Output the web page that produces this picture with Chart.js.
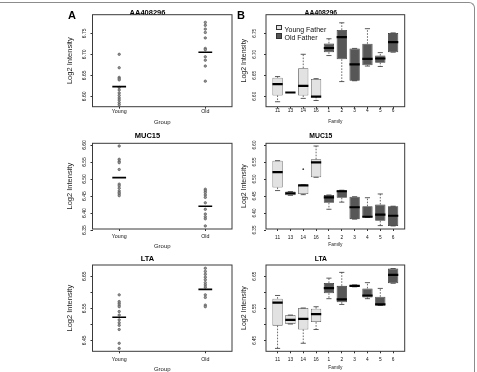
<!DOCTYPE html>
<html>
<head>
<meta charset="utf-8">
<script src="https://cdn.jsdelivr.net/npm/chart.js@4.4.1/dist/chart.umd.min.js"></script>
<style>
  html, body { margin: 0; padding: 0; background: #fff; }
  #fig { position: relative; width: 477px; height: 372px; overflow: hidden; font-family: "Liberation Sans", Arial, sans-serif; }
  #fig canvas { position: absolute; }
  .frame { position: absolute; left: -10px; top: 2px; width: 484px; height: 420px; border-top: 1px solid #8c8c8c; border-right: 1px solid #8c8c8c; border-top-right-radius: 6px; }
  .letter { position: absolute; font-weight: bold; font-size: 11px; line-height: 11px; color: #000; z-index: 5; }
  .leg { position: absolute; font-size: 7px; line-height: 8px; height: 8px; color: #111; white-space: nowrap; z-index: 5; }
  .leg span { display: inline-block; width: 3.5px; height: 3.5px; border: 0.6px solid #333; margin-right: 3px; vertical-align: 1px; }
</style>
</head>
<body>
<div id="fig">
  <div class="frame"></div>
  <canvas id="aaA"></canvas>
  <canvas id="mucA"></canvas>
  <canvas id="ltaA"></canvas>
  <canvas id="aaB"></canvas>
  <canvas id="mucB"></canvas>
  <canvas id="ltaB"></canvas>
  <div class="letter" style="left:68px;top:10px">A</div>
  <div class="letter" style="left:237px;top:10px">B</div>
  <div class="leg" style="left:276px;top:24.7px"><span style="background:#e2e2e2"></span>Young Father</div>
  <div class="leg" style="left:276px;top:33.3px"><span style="background:#555555"></span>Old Father</div>
</div>
<script>
const groups = ['Young', 'Old'];
const families = ['11', '13', '14', '16', '1', '2', '3', '4', '5', '6'];
const youngCount = 4;

// AA408296
const aaYoung = [6.700, 6.668, 6.645, 6.642, 6.639, 6.621, 6.615, 6.608, 6.602, 6.596, 6.591, 6.585, 6.580];
const aaOld = [6.776, 6.769, 6.760, 6.752, 6.739, 6.714, 6.711, 6.694, 6.686, 6.672, 6.636];
const aaCentre = [6.623, 6.705];
const aaLow = [6.587, 6.609, 6.595, 6.590, 6.697, 6.635, 6.637, 6.672, 6.671, 6.705];
const aaQ1 = [6.602, 6.609, 6.602, 6.599, 6.705, 6.688, 6.637, 6.674, 6.680, 6.705];
const aaMed = [6.629, 6.609, 6.625, 6.599, 6.715, 6.741, 6.676, 6.689, 6.690, 6.729];
const aaQ3 = [6.644, 6.609, 6.667, 6.641, 6.726, 6.758, 6.714, 6.725, 6.697, 6.751];
const aaHigh = [6.647, 6.609, 6.700, 6.642, 6.737, 6.775, 6.714, 6.761, 6.704, 6.751];
const aaTicks = [6.60, 6.65, 6.70, 6.75];

// MUC15
const mucYoung = [6.597, 6.558, 6.552, 6.548, 6.528, 6.485, 6.480, 6.473, 6.465, 6.460, 6.456, 6.451];
const mucOld = [6.470, 6.465, 6.460, 6.453, 6.446, 6.430, 6.411, 6.397, 6.389, 6.383, 6.362];
const mucCentre = [6.504, 6.420];
const mucLow = [6.466, 6.452, 6.454, 6.505, 6.411, 6.432, 6.382, 6.387, 6.363, 6.362];
const mucQ1 = [6.475, 6.452, 6.456, 6.505, 6.430, 6.445, 6.382, 6.387, 6.377, 6.362];
const mucMed = [6.520, 6.458, 6.481, 6.549, 6.446, 6.464, 6.417, 6.389, 6.395, 6.392];
const mucQ3 = [6.554, 6.463, 6.483, 6.558, 6.453, 6.467, 6.448, 6.420, 6.425, 6.420];
const mucHigh = [6.554, 6.463, 6.483, 6.597, 6.453, 6.467, 6.448, 6.445, 6.456, 6.420];
const mucOutFam = [3];
const mucOutVal = [6.529];
const mucTicks = [6.35, 6.40, 6.45, 6.50, 6.55, 6.60];

// LTA
const ltaYoung = [6.592, 6.571, 6.566, 6.560, 6.555, 6.540, 6.529, 6.514, 6.505, 6.497, 6.484, 6.441, 6.425];
const ltaOld = [6.675, 6.665, 6.656, 6.647, 6.639, 6.630, 6.623, 6.616, 6.592, 6.584, 6.560, 6.555];
const ltaCentre = [6.522, 6.609];
const ltaLow = [6.425, 6.501, 6.441, 6.484, 6.580, 6.562, 6.617, 6.580, 6.559, 6.628];
const ltaQ1 = [6.496, 6.501, 6.484, 6.507, 6.597, 6.569, 6.617, 6.584, 6.559, 6.628];
const ltaMed = [6.568, 6.514, 6.517, 6.532, 6.613, 6.578, 6.620, 6.590, 6.562, 6.654];
const ltaQ3 = [6.580, 6.529, 6.551, 6.549, 6.629, 6.620, 6.623, 6.612, 6.586, 6.674];
const ltaHigh = [6.590, 6.529, 6.551, 6.555, 6.644, 6.662, 6.623, 6.630, 6.612, 6.674];
const ltaTicks = [6.45, 6.50, 6.55, 6.60, 6.65];
const ltaLabelled = [6.45, 6.55, 6.65];

Chart.defaults.font.family = '"Liberation Sans", Arial, sans-serif';
Chart.defaults.color = '#111';

const framePlugin = {
  id: 'frame',
  afterDatasetsDraw(chart) {
    const a = chart.chartArea;
    const ctx = chart.ctx;
    ctx.save();
    ctx.strokeStyle = '#3a3a3a';
    ctx.lineWidth = 1;
    ctx.strokeRect(a.left, a.top, a.right - a.left, a.bottom - a.top);
    ctx.restore();
  }
};

// work out canvas box and paddings so the plot area lands where it should
function geom(g) {
  const tLH = 2 * (g.T - g.titleY);
  const top = Math.floor(g.titleY - tLH / 2 - 6);
  const yLH = g.yTitleSize * 1.2;
  const left = Math.floor(g.yTitleX - yLH / 2 - 2);
  const xLH = g.xTitleSize * 1.2;
  const bottom = Math.ceil(g.xTitleY + xLH / 2 + 1);
  const width = Math.round(2 * ((g.L + g.R) / 2 - left));
  return {
    left, top, width, height: bottom - top,
    titleLH: tLH, titlePad: g.T - top - tLH,
    yw: g.L - left, yTitlePad: g.yTitleX - left - yLH / 2,
    rp: left + width - g.R,
    xh: bottom - g.B, xTitlePad: bottom - g.xTitleY - xLH / 2,
    xTickPad: g.xLabelY - g.B - 2 - g.xTickSize * 0.6,
    yTickPad: g.L - 2 - g.yLabelX - g.yTickSize * 0.973
  };
}

function seg(list) {
  const pts = [];
  list.forEach(s => {
    pts.push({ x: s[0], y: s[1] }, { x: s[2], y: s[3] }, { x: s[2], y: null });
  });
  return pts;
}

function makeChart(id, g, title, yMin, yMax, yTicks, labelled, xMin, xMax, xTicks, xLabels, xTitle, type, datasets) {
  const k = geom(g);
  const el = document.getElementById(id);
  el.width = k.width;
  el.height = k.height;
  el.style.left = k.left + 'px';
  el.style.top = k.top + 'px';
  return new Chart(el, {
    type: type,
    data: { datasets: datasets },
    plugins: [framePlugin],
    options: {
      responsive: false,
      animation: false,
      layout: { padding: { left: 0, top: 0, bottom: 0, right: k.rp }, autoPadding: false },
      plugins: {
        legend: { display: false },
        tooltip: { enabled: false },
        title: {
          display: true, text: title, color: '#000',
          font: { size: g.titleSize, weight: 'bold', lineHeight: k.titleLH / g.titleSize },
          padding: { top: k.titlePad, bottom: 0 }
        }
      },
      scales: {
        x: {
          type: 'linear', min: xMin, max: xMax, offset: false,
          afterBuildTicks: s => { s.ticks = xTicks.map(v => ({ value: v })); },
          afterFit: s => { s.height = k.xh; },
          grid: { offset: false, drawOnChartArea: false, drawTicks: true, tickLength: 2, color: '#333' },
          border: { display: false },
          ticks: {
            autoSkip: false, maxRotation: 0, padding: k.xTickPad, color: '#111',
            font: { size: g.xTickSize },
            callback: (v, i) => xLabels[i]
          },
          title: { display: true, text: xTitle, color: '#222', font: { size: g.xTitleSize }, padding: { top: 0, bottom: k.xTitlePad } }
        },
        y: {
          min: yMin, max: yMax,
          afterBuildTicks: s => { s.ticks = yTicks.map(v => ({ value: v })); },
          afterFit: s => { s.width = k.yw; },
          grid: { drawOnChartArea: false, drawTicks: true, tickLength: 2, color: '#333' },
          border: { display: false },
          ticks: {
            autoSkip: false, minRotation: 90, maxRotation: 90, crossAlign: 'center',
            padding: k.yTickPad, color: '#111', font: { size: g.yTickSize },
            callback: v => (labelled.some(l => Math.abs(l - v) < 1e-6) ? v.toFixed(2) : '')
          },
          title: { display: true, text: 'Log2 Intensity', color: '#222', font: { size: g.yTitleSize }, padding: { top: k.yTitlePad, bottom: 0 } }
        }
      }
    }
  });
}

function stripSets(young, old, centre) {
  const pt = { type: 'scatter', pointRadius: 1.2, pointBorderWidth: 0.7, pointBackgroundColor: '#9a9a9a', pointBorderColor: '#555', order: 1 };
  return [
    { type: 'line', data: seg(centre.map((c, i) => [i + 1 - 0.08, c, i + 1 + 0.08, c])), borderColor: '#000', borderWidth: 1.6, pointRadius: 0, order: 0 },
    Object.assign({ data: young.map(v => ({ x: 1, y: v })) }, pt),
    Object.assign({ data: old.map(v => ({ x: 2, y: v })) }, pt)
  ];
}

function boxSets(low, q1, med, q3, high, outFam, outVal) {
  const pos = families.map((f, i) => i + 1);
  const whisk = [];
  pos.forEach((x, i) => {
    if (high[i] > q3[i]) whisk.push([x, q3[i], x, high[i]]);
    if (low[i] < q1[i]) whisk.push([x, q1[i], x, low[i]]);
  });
  const caps = [];
  pos.forEach((x, i) => {
    caps.push([x - 0.2, high[i], x + 0.2, high[i]]);
    caps.push([x - 0.2, low[i], x + 0.2, low[i]]);
  });
  const bar = { type: 'bar', barThickness: 10.3, grouped: false, borderSkipped: false, borderWidth: 0.8, inflateAmount: 0, order: 4 };
  return [
    { type: 'line', data: seg(pos.map((x, i) => [x - 0.4, med[i], x + 0.4, med[i]])), borderColor: '#000', borderWidth: 2.2, pointRadius: 0, order: 0 },
    { type: 'line', data: seg(caps), borderColor: '#333', borderWidth: 0.8, pointRadius: 0, order: 1 },
    { type: 'line', data: seg(whisk), borderColor: '#444', borderWidth: 0.8, borderDash: [1.6, 1.4], pointRadius: 0, order: 2 },
    { type: 'scatter', data: outFam.map((f, i) => ({ x: f, y: outVal[i] })), pointRadius: 0.9, pointBackgroundColor: '#444', pointBorderWidth: 0, order: 3 },
    Object.assign({ label: 'Young Father', data: pos.slice(0, youngCount).map((x, i) => ({ x: x, y: [q1[i], q3[i]] })),
      backgroundColor: '#e2e2e2', borderColor: '#5a5a5a' }, bar),
    Object.assign({ label: 'Old Father', data: pos.slice(youngCount).map((x, j) => ({ x: x, y: [q1[j + youngCount], q3[j + youngCount]] })),
      backgroundColor: '#575757', borderColor: '#333' }, bar)
  ];
}

const fontA = { titleSize: 7.5, yTickSize: 5, xTickSize: 5.3, yTitleSize: 7.5, xTitleSize: 6 };
const fontB = { titleSize: 6.8, yTickSize: 4.6, xTickSize: 4.8, yTitleSize: 7, xTitleSize: 4.8 };
const colA = { L: 92.5, R: 232, yTitleX: 70, yLabelX: 85 };
const colB = { L: 266, R: 404.7, yTitleX: 243.7, yLabelX: 254.3 };
const rowTop = { T: 14.7, B: 106.7, titleY: 12.7 };
const rowMid = { T: 143.3, B: 229, titleY: 135.7 };
const rowBot = { T: 265, B: 351.3, titleY: 259.3 };
const famTicks = families.map((f, i) => i + 1);

makeChart('aaA', Object.assign({}, fontA, colA, rowTop, { xLabelY: 112, xTitleY: 122 }), 'AA408296',
  6.5752, 6.7943, aaTicks, aaTicks, 0.69, 2.31, [1, 2], groups, 'Group', 'scatter', stripSets(aaYoung, aaOld, aaCentre));
makeChart('mucA', Object.assign({}, fontA, colA, rowMid, { xLabelY: 236.7, xTitleY: 246 }), 'MUC15',
  6.353, 6.605, mucTicks, mucTicks, 0.69, 2.31, [1, 2], groups, 'Group', 'scatter', stripSets(mucYoung, mucOld, mucCentre));
makeChart('ltaA', Object.assign({}, fontA, colA, rowBot, { xLabelY: 359.3, xTitleY: 369.3 }), 'LTA',
  6.416, 6.685, ltaTicks, ltaLabelled, 0.69, 2.31, [1, 2], groups, 'Group', 'scatter', stripSets(ltaYoung, ltaOld, ltaCentre));

makeChart('aaB', Object.assign({}, fontB, colB, rowTop, { xLabelY: 110.5, xTitleY: 121.7 }), 'AA408296',
  6.5752, 6.7943, aaTicks, aaTicks, 0.1, 10.9, famTicks, families, 'Family', 'bar', boxSets(aaLow, aaQ1, aaMed, aaQ3, aaHigh, [], []));
makeChart('mucB', Object.assign({}, fontB, colB, rowMid, { xLabelY: 237.7, xTitleY: 245 }), 'MUC15',
  6.353, 6.605, mucTicks, mucTicks, 0.1, 10.9, famTicks, families, 'Family', 'bar', boxSets(mucLow, mucQ1, mucMed, mucQ3, mucHigh, mucOutFam, mucOutVal));
makeChart('ltaB', Object.assign({}, fontB, colB, rowBot, { xLabelY: 359.3, xTitleY: 367.7 }), 'LTA',
  6.416, 6.685, ltaTicks, ltaLabelled, 0.1, 10.9, famTicks, families, 'Family', 'bar', boxSets(ltaLow, ltaQ1, ltaMed, ltaQ3, ltaHigh, [], []));
</script>
</body>
</html>
